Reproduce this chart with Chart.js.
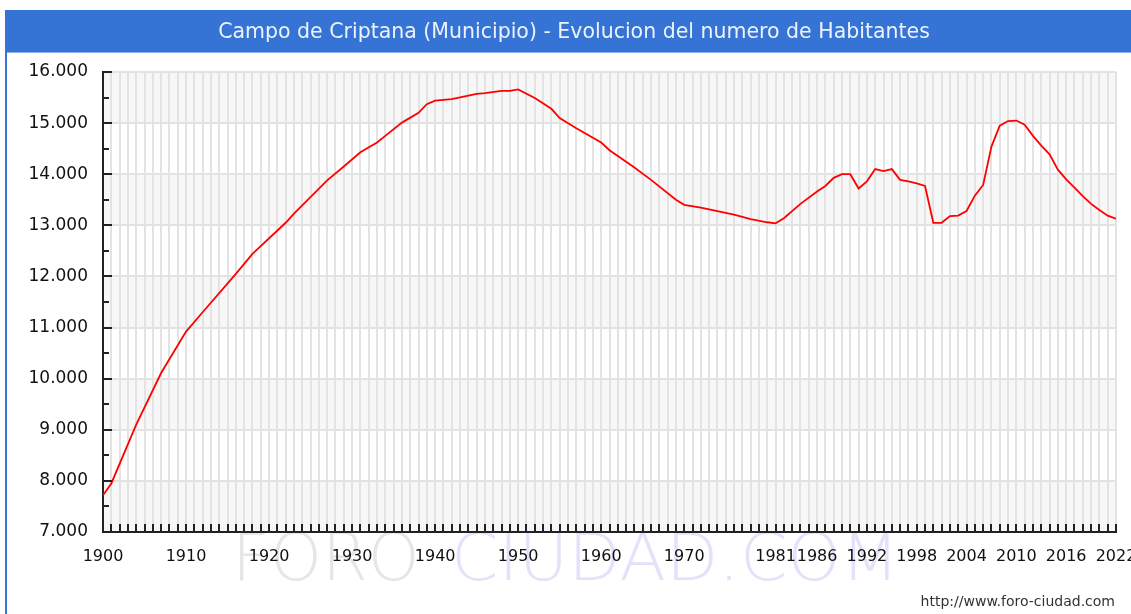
<!DOCTYPE html>
<html>
<head>
<meta charset="utf-8">
<script src="https://cdn.jsdelivr.net/npm/chart.js@4/dist/chart.umd.min.js"></script>
<style>
  html, body { margin: 0; padding: 0; background: #fff; }
  #wrap { width: 1131px; height: 614px; }
</style>
</head>
<body>
<div id="wrap"><canvas id="chart" width="1131" height="614"></canvas></div>
<script>
/* Campo de Criptana - evolucion habitantes */

const TITLE = "Campo de Criptana (Municipio) - Evolucion del numero de Habitantes";
const URL_TEXT = "http://www.foro-ciudad.com";

const years = [1900, 1901, 1904, 1907, 1910, 1912, 1916, 1918, 1922, 1923, 1927, 1929, 1931, 1933, 1934,
  1936, 1938, 1939, 1940, 1942, 1945, 1946, 1948, 1949, 1950, 1952, 1954, 1955, 1957, 1960, 1961,
  1964, 1966, 1969, 1970, 1972, 1976, 1978, 1980, 1981, 1982, 1984, 1986, 1987, 1988, 1989, 1990,
  1991, 1992, 1993, 1994, 1995, 1996, 1997, 1998, 1999, 2000, 2001, 2002, 2003, 2004, 2005, 2006,
  2007, 2008, 2009, 2010, 2011, 2012, 2013, 2014, 2015, 2016, 2017, 2018, 2019, 2020, 2021, 2022];
const habitantes = [7720, 7950, 9100, 10110, 10920, 11300, 12050, 12440, 13050, 13230, 13880, 14150, 14430, 14620, 14750,
  15010, 15200, 15370, 15440, 15470, 15570, 15585, 15630, 15630, 15660, 15490, 15280, 15100, 14900, 14620, 14470,
  14130, 13890, 13500, 13400, 13345, 13210, 13120, 13060, 13040, 13140, 13420, 13660, 13770, 13930, 14000, 14000,
  13720, 13860, 14100, 14060, 14100, 13890, 13860, 13820, 13770, 13050, 13050, 13180, 13190, 13280, 13580, 13790,
  14540, 14950, 15040, 15050, 14970, 14750, 14560, 14390, 14090, 13900, 13740, 13570, 13420, 13300, 13190, 13130];

// etiquetas del eje x (el resto de años solo llevan rejilla)
const labelYears = [1900, 1910, 1920, 1930, 1940, 1950, 1960, 1970, 1981, 1986, 1992, 1998, 2004, 2010, 2016, 2022];
const yMin = 7000, yMax = 16000, yStep = 1000;

const BLUE = "#3573d5";
const fmt = v => String(v).replace(/\B(?=(\d{3})+(?!\d))/g, ".");

// fondo: barra de titulo, bandas, marca de agua
const decoPlugin = {
  id: "deco",
  beforeDraw(chart) {
    const { ctx, chartArea: a, scales: { y } } = chart;
    ctx.save();
    ctx.fillStyle = "#fff";
    ctx.fillRect(0, 0, chart.width, chart.height);

    // borde izquierdo + barra titulo
    ctx.fillStyle = BLUE;
    ctx.fillRect(5, 10, 2, chart.height - 10);
    ctx.fillRect(5, 10, chart.width - 5, 43);
    ctx.fillStyle = "#8fb1ea";
    ctx.fillRect(7, 52, chart.width - 7, 1);
    ctx.fillStyle = "#edf2fb";
    ctx.font = "20.5px 'DejaVu Sans', Verdana, sans-serif";
    ctx.textAlign = "center";
    ctx.textBaseline = "middle";
    ctx.fillText(TITLE, 574, 33);

    // bandas alternas
    let i = 0;
    for (let v = yMax; v > yMin; v -= yStep, i++) {
      if (i % 2 === 1) continue;
      const t = y.getPixelForValue(v), b = y.getPixelForValue(v - yStep);
      ctx.fillStyle = "#f7f7f7";
      ctx.fillRect(a.left, t, a.right - a.left, b - t);
    }

    // marca de agua
    ctx.font = "200 66px 'DejaVu Sans', sans-serif";
    ctx.textAlign = "left";
    ctx.textBaseline = "alphabetic";
    ctx.fillStyle = "#e6e6e6";
    ctx.fillText("FORO", 232, 580);
    ctx.fillStyle = "#e2e2fb";
    ctx.save();
    ctx.translate(451, 580);
    ctx.scale(1.03, 1);
    ctx.fillText("CIUDAD.COM", 0, 0);
    ctx.restore();

    ctx.fillStyle = "#333";
    ctx.font = "14px 'DejaVu Sans', Verdana, sans-serif";
    ctx.textAlign = "right";
    ctx.fillText(URL_TEXT, 1115, 606);
    ctx.restore();
  },
  afterDraw(chart) {
    // marcas de los ejes hacia dentro
    const { ctx, chartArea: a, scales: { x, y } } = chart;
    ctx.save();
    ctx.strokeStyle = "#222";
    ctx.lineWidth = 2;
    ctx.beginPath();
    for (let v = yMin; v <= yMax; v += yStep / 2) {
      const py = Math.round(y.getPixelForValue(v));
      const len = v % yStep === 0 ? 9 : 6;
      ctx.moveTo(a.left, py); ctx.lineTo(a.left + len, py);
    }
    for (let yr = years[0]; yr <= 2022; yr++) {
      const px = Math.round(x.getPixelForValue(yr));
      ctx.moveTo(px, a.bottom); ctx.lineTo(px, a.bottom - 8);
    }
    ctx.stroke();
    ctx.restore();
  }
};

new Chart(document.getElementById("chart"), {
  type: "line",
  data: {
    datasets: [{
      data: years.map((yr, i) => ({ x: yr, y: habitantes[i] })),
      borderColor: "#ff0000",
      borderWidth: 1.8,
      pointRadius: 0,
      tension: 0,
      fill: false
    }]
  },
  options: {
    responsive: false,
    devicePixelRatio: 1,
    animation: false,
    layout: { padding: { left: 0, top: 72, right: 15, bottom: 0 } },
    plugins: { legend: { display: false }, tooltip: { enabled: false }, title: { display: false } },
    scales: {
      x: {
        type: "linear",
        min: 1900, max: 2022,
        afterBuildTicks: s => { s.ticks = []; for (let yr = 1900; yr <= 2022; yr++) s.ticks.push({ value: yr }); },
        afterFit: s => { s.height = 82; s.paddingRight = 0; s.paddingLeft = 0; },
        grid: { color: "#e3e3e3", lineWidth: 2, drawTicks: false },
        border: { color: "#222", width: 2 },
        ticks: {
          autoSkip: false, maxRotation: 0, padding: 15, color: "#111",
          font: { family: "'DejaVu Sans', Verdana, sans-serif", size: 16 },
          callback: v => labelYears.includes(v) ? String(v) : ""
        }
      },
      y: {
        min: yMin, max: yMax,
        afterFit: s => { s.width = 103; },
        grid: { color: "#e3e3e3", lineWidth: 2, drawTicks: false },
        border: { color: "#222", width: 2 },
        ticks: {
          stepSize: yStep, padding: 15, color: "#111",
          font: { family: "'DejaVu Sans', Verdana, sans-serif", size: 17 },
          callback: v => fmt(v)
        }
      }
    }
  },
  plugins: [decoPlugin]
});
</script>
</body>
</html>
